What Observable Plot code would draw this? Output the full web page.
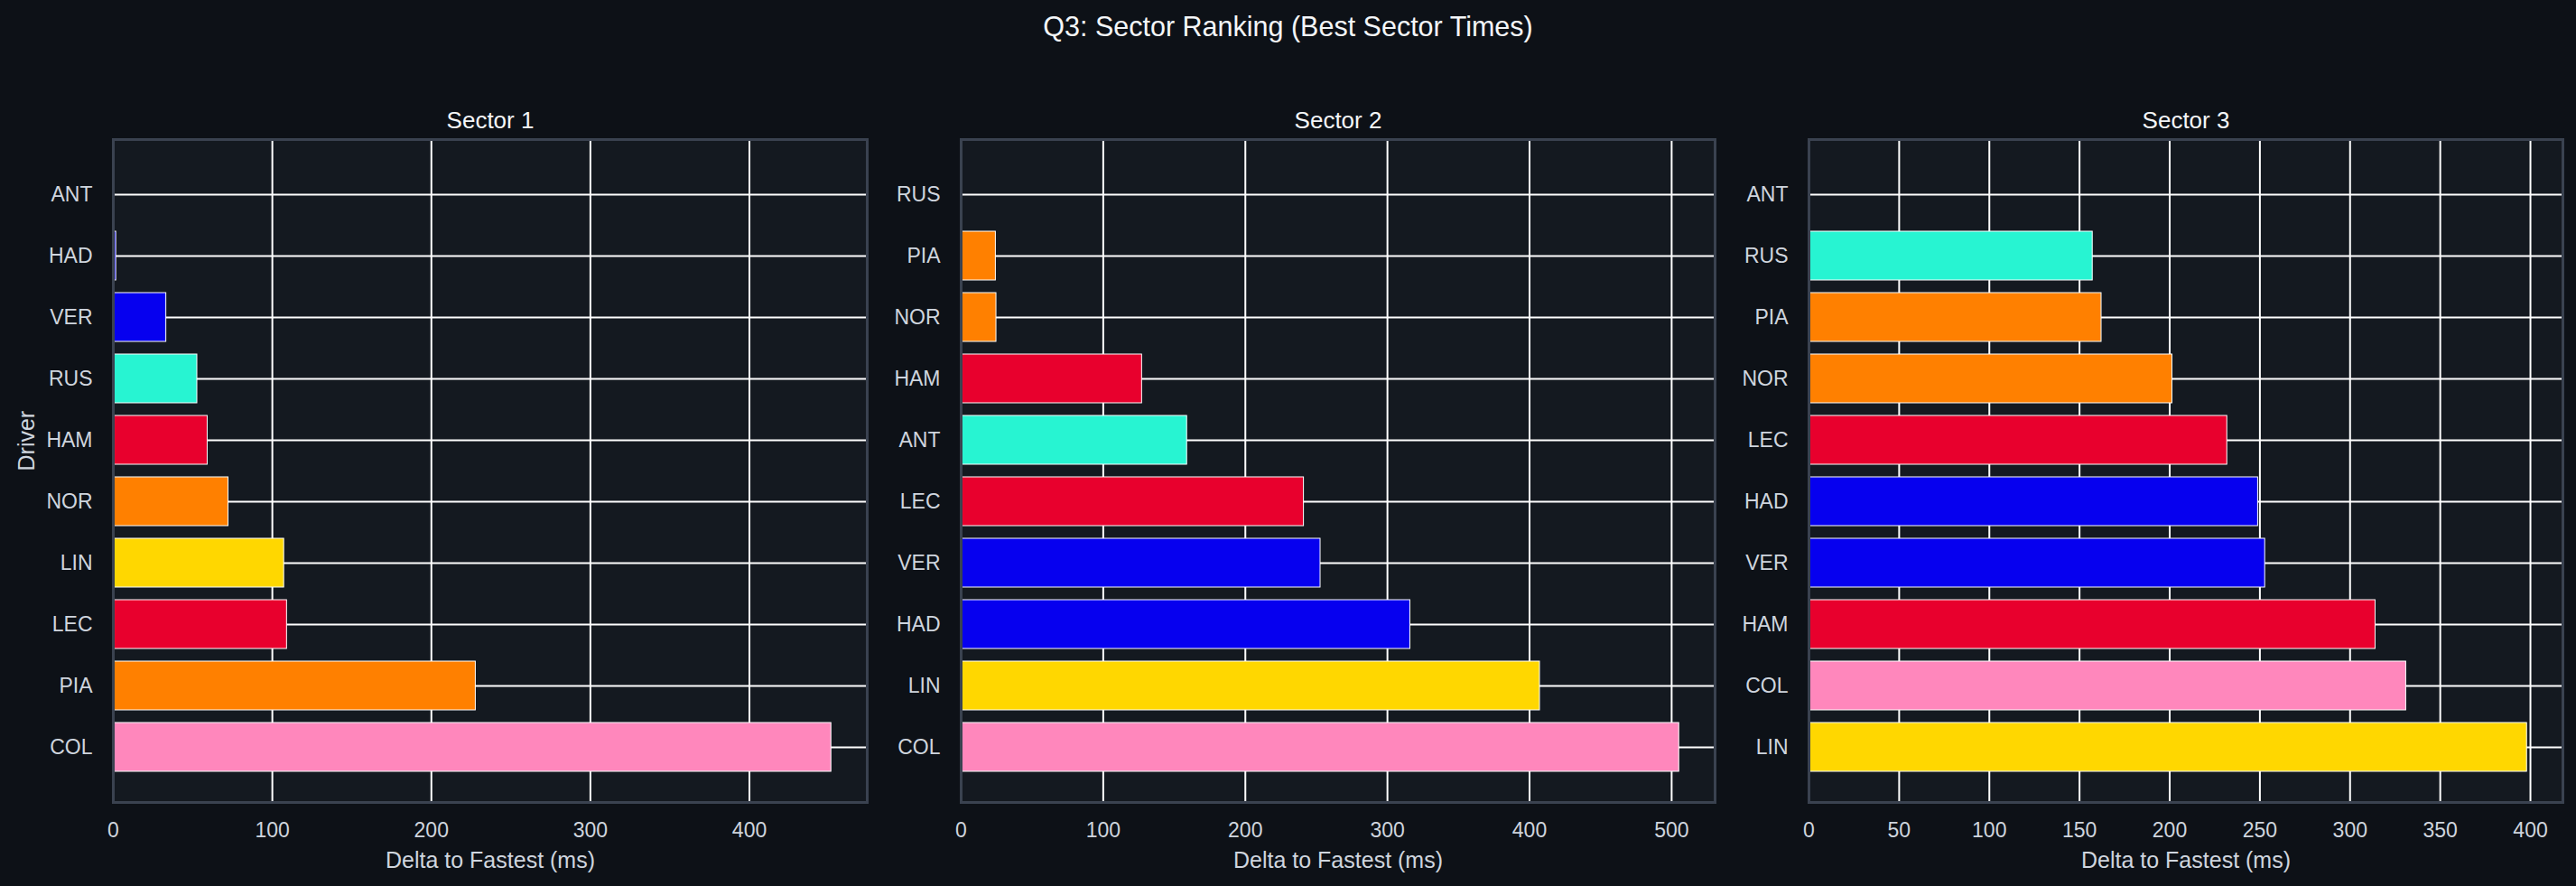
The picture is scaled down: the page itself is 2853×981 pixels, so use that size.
<!DOCTYPE html>
<html>
<head>
<meta charset="utf-8">
<script src="https://cdn.jsdelivr.net/npm/d3@7"></script>
<script src="https://cdn.jsdelivr.net/npm/@observablehq/plot@0.6"></script>
<style>
  html, body { margin: 0; padding: 0; background: #0d1117; }
  #fig { position: relative; width: 2853px; height: 981px; overflow: hidden; background: #0d1117;
         font-family: "Liberation Sans", Arial, Helvetica, sans-serif; }
  #title { position: absolute; left: 0; top: 14px; width: 2853px; text-align: center;
           font-size: 30.5px; line-height: 30px; color: #f4f6f8; }
  .panel { position: absolute; top: 60px; }
</style>
</head>
<body>
<div id="fig">
  <div id="title">Q3: Sector Ranking (Best Sector Times)</div>
</div>
<script>
// Team colours per driver
const teamDrivers = ["ANT", "RUS", "VER", "HAD", "LEC", "HAM", "NOR", "PIA", "LIN", "COL"];
const teamColors  = ["#27F4D2", "#27F4D2", "#0600EF", "#0600EF", "#E8002D", "#E8002D", "#FF8000", "#FF8000", "#FFD700", "#FF87BC"];

// Sector 1: drivers ranked fastest first, delta to fastest (ms)
const sector1Drivers = ["ANT", "HAD", "VER", "RUS", "HAM", "NOR", "LIN", "LEC", "PIA", "COL"];
const sector1Delta   = [0, 1.8, 33.3, 52.8, 59.3, 72.4, 107.4, 109.2, 227.9, 451.5];
const sector1Ticks   = [0, 100, 200, 300, 400];

// Sector 2
const sector2Drivers = ["RUS", "PIA", "NOR", "HAM", "ANT", "LEC", "VER", "HAD", "LIN", "COL"];
const sector2Delta   = [0, 24.4, 24.8, 127.3, 159.0, 241.2, 252.9, 316.1, 407.3, 505.3];
const sector2Ticks   = [0, 100, 200, 300, 400, 500];

// Sector 3
const sector3Drivers = ["ANT", "RUS", "PIA", "NOR", "LEC", "HAD", "VER", "HAM", "COL", "LIN"];
const sector3Delta   = [0, 157.3, 162.2, 201.5, 231.9, 249.0, 252.9, 314.1, 331.1, 398.1];
const sector3Ticks   = [0, 50, 100, 150, 200, 250, 300, 350, 400];

const sectorTitles = ["Sector 1", "Sector 2", "Sector 3"];
const xLabel = "Delta to Fastest (ms)";
const yLabel = "Driver";

const colorOf = new Map(teamDrivers.map((d, i) => [d, teamColors[i]]));

const PANEL_BG = "#141920";
const EDGE = "#3a4250";
const TEXT = "#cfd5de";
const FONT = "'Liberation Sans', Arial, Helvetica, sans-serif";

const sectors = [
  {title: sectorTitles[0], drivers: sector1Drivers, delta: sector1Delta, ticks: sector1Ticks},
  {title: sectorTitles[1], drivers: sector2Drivers, delta: sector2Delta, ticks: sector2Ticks},
  {title: sectorTitles[2], drivers: sector3Drivers, delta: sector3Delta, ticks: sector3Ticks}
];

const fig = document.getElementById("fig");
const ML = 125, MR = 14, FRAME_W = 835, STEP = 939;

sectors.forEach((s, i) => {
  const rows = s.drivers.map((d, j) => ({driver: d, delta: s.delta[j], color: colorOf.get(d)}));
  const xmax = d3.max(s.delta) * 1.05;
  const chart = Plot.plot({
    width: ML + FRAME_W + MR,
    height: 921,
    marginLeft: ML,
    marginRight: MR,
    marginTop: 94,
    marginBottom: 93,
    style: {background: "transparent", fontFamily: FONT, fontSize: "23px", color: TEXT, overflow: "visible"},
    x: {domain: [0, xmax]},
    y: {type: "band", domain: s.drivers, paddingInner: 0.2, paddingOuter: 0.49, align: 0.5},
    marks: [
      Plot.frame({fill: PANEL_BG, stroke: null}),
      Plot.gridX({ticks: s.ticks, stroke: "#ffffff", strokeOpacity: 1, strokeWidth: 2}),
      Plot.gridY({stroke: "#ffffff", strokeOpacity: 1, strokeWidth: 2}),
      Plot.barX(rows, {x: "delta", y: "driver", fill: "color", stroke: "#ffffff", strokeWidth: 1}),
      Plot.frame({stroke: EDGE, strokeWidth: 3}),
      Plot.axisX({ticks: s.ticks, tickSize: 0, tickPadding: 22, fontSize: 23, fill: TEXT, label: null}),
      Plot.axisY({tickSize: 0, tickPadding: 23, fontSize: 23, fill: TEXT, label: null}),
      Plot.text([s.title], {frameAnchor: "top", dy: -13, lineAnchor: "bottom", fontSize: 26, fill: "#f4f6f8"}),
      Plot.text([xLabel], {frameAnchor: "bottom", dy: 72, lineAnchor: "bottom", fontSize: 25, fill: TEXT}),
      i === 0 ? Plot.text([yLabel], {frameAnchor: "left", dx: -88, rotate: -90, lineAnchor: "bottom", fontSize: 25, fill: TEXT}) : null
    ]
  });
  chart.classList.add("panel");
  chart.style.left = (ML + i * STEP - ML) + "px";
  fig.appendChild(chart);
});
</script>
</body>
</html>
